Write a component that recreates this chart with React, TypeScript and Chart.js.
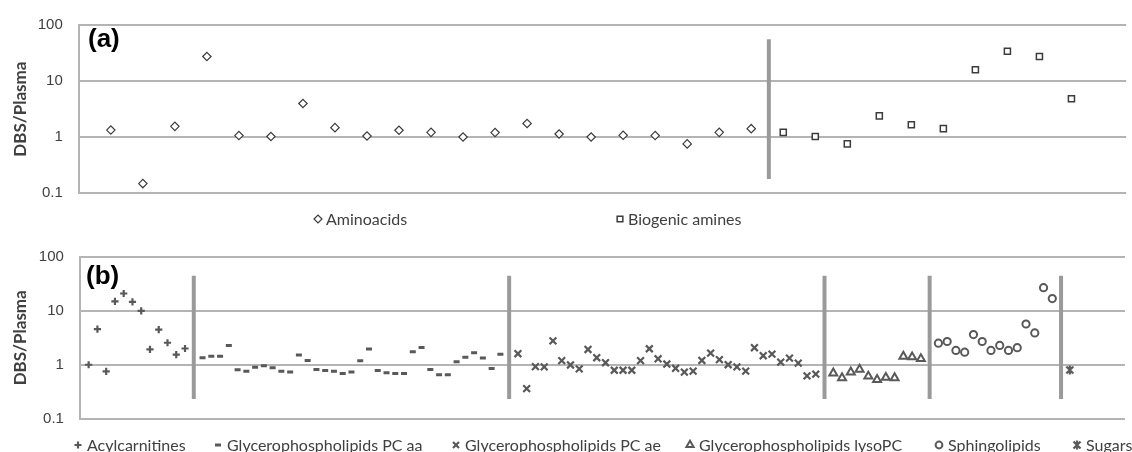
import React, { useEffect, useRef } from 'react';
import { Chart, registerables } from 'chart.js';
import { drawPoint } from 'chart.js/helpers';

Chart.register(...registerables);

// ---------- data ----------
const Y_TICKS = [0.1, 1, 10, 100];
const Y_TICK_LABELS = ['0.1', '1', '10', '100'];

// panel (a)
const AMINOACIDS = [1.34, 0.149, 1.56, 27.4, 1.07, 1.03, 3.98, 1.48, 1.05, 1.33, 1.22, 1.01, 1.21, 1.76, 1.14, 1.01, 1.08, 1.07, 0.76, 1.22, 1.42];
const BIOGENIC_AMINES = [1.22, 1.03, 0.76, 2.4, 1.67, 1.42, 15.9, 34.1, 27.4, 4.86];
const SEPARATORS_A = [21.55];
const SEPARATOR_RANGE_A = [0.18, 56];

// panel (b)
const ACYLCARNITINES = [1.0, 4.6, 0.75, 15, 21, 14.7, 10, 1.93, 4.5, 2.56, 1.54, 2.0];
const PC_AA = [1.35, 1.43, 1.43, 2.28, 0.81, 0.76, 0.9, 0.96, 0.88, 0.76, 0.73, 1.51, 1.2, 0.82, 0.78, 0.76, 0.69, 0.73, 1.19, 1.95, 0.78, 0.71, 0.69, 0.69, 1.74, 2.09, 0.82, 0.65, 0.65, 1.14, 1.37, 1.67, 1.33, 0.85, 1.57];
const PC_AE = [1.6, 0.36, 0.92, 0.91, 2.78, 1.19, 0.99, 0.84, 1.92, 1.35, 1.09, 0.79, 0.79, 0.79, 1.19, 1.98, 1.29, 1.03, 0.86, 0.73, 0.76, 1.2, 1.64, 1.24, 1.0, 0.91, 0.76, 2.07, 1.47, 1.57, 1.12, 1.33, 1.07, 0.62, 0.67];
const LYSO_PC = [0.7, 0.57, 0.73, 0.82, 0.61, 0.53, 0.58, 0.57, 1.43, 1.39, 1.29];
const SPHINGOLIPIDS = [2.51, 2.7, 1.84, 1.71, 3.63, 2.7, 1.84, 2.28, 1.84, 2.07, 5.7, 3.9, 27, 16.9];
const SUGARS = [0.8];
const SEPARATOR_RANGE_B = [0.23, 45];

const LABELS_A = ['Aminoacids', 'Biogenic amines'];
const LABELS_B = ['Acylcarnitines', 'Glycerophospholipids PC aa', 'Glycerophospholipids PC ae', 'Glycerophospholipids lysoPC', 'Sphingolipids', 'Sugars'];

// ---------- layout / style ----------
const W = 1132;
const H_A = 232;
const H_B = 220;
const GREY = '#595959';
const DARK = '#3c3c3c';
const GRID = '#b4b4b4';
const SEP = '#9a9a9a';
const TEXT = '#404040';
const FONT_FAMILY = 'Lato, "Open Sans", sans-serif';

function makeStar(): HTMLCanvasElement {
  const c = document.createElement('canvas');
  c.width = 12; c.height = 12;
  const g = c.getContext('2d')!;
  g.strokeStyle = GREY; g.lineWidth = 2.2; g.lineCap = 'butt';
  g.beginPath();
  g.moveTo(2.5, 2.5); g.lineTo(9.5, 9.5);
  g.moveTo(9.5, 2.5); g.lineTo(2.5, 9.5);
  g.moveTo(6, 1.5); g.lineTo(6, 10.5);
  g.stroke();
  return c;
}

const decorPlugin = {
  id: 'panelDecor',
  afterDraw(chart: any, _args: any, opts: any) {
    const { ctx } = chart;
    ctx.save();
    // panel letter
    ctx.font = 'bold 26px "Liberation Sans", Arial, sans-serif';
    ctx.fillStyle = '#000';
    ctx.textBaseline = 'middle';
    ctx.textAlign = 'left';
    ctx.fillText(opts.panel, opts.panelX, opts.panelY);
    // legend
    const items = chart.data.datasets.filter((d: any) => d.label);
    ctx.font = opts.font;
    items.forEach((ds: any, i: number) => {
      const x = opts.xs[i];
      const y = opts.y;
      ctx.fillStyle = ds.pointBackgroundColor || 'rgba(0,0,0,0)';
      ctx.strokeStyle = ds.pointBorderColor || GREY;
      ctx.lineWidth = ds.pointBorderWidth;
      drawPoint(ctx, { pointStyle: ds.pointStyle, radius: ds.legendRadius, borderWidth: ds.pointBorderWidth, rotation: 0 }, x, y);
      ctx.fillStyle = TEXT;
      ctx.textAlign = 'left';
      ctx.fillText(ds.label, x + opts.textGap, y + 1);
    });
    ctx.restore();
  },
};

function yScale(width: number) {
  return {
    type: 'logarithmic',
    min: 0.1,
    max: 100,
    afterBuildTicks: (s: any) => { s.ticks = Y_TICKS.map((v) => ({ value: v })); },
    afterFit: (s: any) => { s.width = width; },
    ticks: {
      padding: 16,
      color: TEXT,
      font: { family: '"Liberation Sans", Arial, sans-serif', size: 15 },
      callback: (_v: any, i: number) => Y_TICK_LABELS[i],
      autoSkip: false,
    },
    grid: { color: GRID, lineWidth: 2, drawTicks: false },
    border: { display: true, color: GRID, width: 2 },
    title: {
      display: true,
      text: 'DBS/Plasma',
      color: TEXT,
      font: { family: FONT_FAMILY, size: 17, weight: 'bold' },
      padding: { top: 10, bottom: 0 },
    },
  };
}

function sepDatasets(xs: number[], range: number[]) {
  return xs.map((x) => ({
    label: '',
    data: [{ x, y: range[0] }, { x, y: range[1] }],
    showLine: true,
    borderColor: SEP,
    borderWidth: 4,
    pointRadius: 0,
    order: 10,
  }));
}

export default function App() {
  const refA = useRef<HTMLCanvasElement>(null);
  const refB = useRef<HTMLCanvasElement>(null);

  useEffect(() => {
    const star = makeStar();

    // ----- panel (a) -----
    const aminoPts = AMINOACIDS.map((v, i) => ({ x: i + 1, y: v }));
    const bioPts = BIOGENIC_AMINES.map((v, i) => ({ x: AMINOACIDS.length + i + 1, y: v }));
    const chartA = new Chart(refA.current!, {
      type: 'scatter',
      data: {
        datasets: [
          { label: LABELS_A[0], data: aminoPts, pointStyle: 'rectRot', pointRadius: 4.2, legendRadius: 4, pointBorderWidth: 1.2, pointBorderColor: DARK, pointBackgroundColor: '#fff', order: 1 } as any,
          { label: LABELS_A[1], data: bioPts, pointStyle: 'rect', pointRadius: 4.3, legendRadius: 4, pointBorderWidth: 1.5, pointBorderColor: DARK, pointBackgroundColor: '#fff', order: 1 } as any,
          ...sepDatasets(SEPARATORS_A, SEPARATOR_RANGE_A),
        ],
      },
      options: {
        responsive: false,
        animation: false,
        events: [],
        layout: { padding: { top: 21.7, bottom: H_A - 193.3, left: 0, right: 0 } },
        plugins: {
          legend: { display: false },
          tooltip: { enabled: false },
          panelDecor: { panel: '(a)', panelX: 88, panelY: 40, xs: [318, 620], y: 219, textGap: 8, font: `16px ${FONT_FAMILY}` },
        } as any,
        scales: {
          x: { type: 'linear', min: 0, max: 32.71, display: false },
          y: yScale(78.8) as any,
        },
      },
      plugins: [decorPlugin],
    });

    // ----- panel (b) -----
    const groups = [ACYLCARNITINES, PC_AA, PC_AE, LYSO_PC, SPHINGOLIPIDS, SUGARS];
    const styles: any[] = [
      { pointStyle: 'cross', pointRadius: 3.6, legendRadius: 3.5, pointBorderWidth: 2.2, pointBorderColor: GREY },
      { pointStyle: 'line', pointRadius: 3, legendRadius: 3, pointBorderWidth: 3, pointBorderColor: GREY },
      { pointStyle: 'crossRot', pointRadius: 4.8, legendRadius: 4.2, pointBorderWidth: 2.2, pointBorderColor: GREY },
      { pointStyle: 'triangle', pointRadius: 4.6, legendRadius: 4.2, pointBorderWidth: 2, pointBorderColor: GREY, pointBackgroundColor: 'rgba(0,0,0,0)' },
      { pointStyle: 'circle', pointRadius: 3.6, legendRadius: 3.4, pointBorderWidth: 2, pointBorderColor: GREY, pointBackgroundColor: 'rgba(0,0,0,0)' },
      { pointStyle: star, pointRadius: 5, legendRadius: 5, pointBorderWidth: 2, pointBorderColor: GREY },
    ];
    const dsB: any[] = [];
    const sepB: number[] = [];
    let offset = 1;
    groups.forEach((g, gi) => {
      dsB.push({ label: LABELS_B[gi], data: g.map((v, i) => ({ x: offset + i, y: v })), order: 1, ...styles[gi] });
      offset += g.length;
      if (gi < groups.length - 1) { sepB.push(offset); offset += 1; }
    });
    const chartB = new Chart(refB.current!, {
      type: 'scatter',
      data: { datasets: [...dsB, ...sepDatasets(sepB, SEPARATOR_RANGE_B)] },
      options: {
        responsive: false,
        animation: false,
        events: [],
        layout: { padding: { top: 24, bottom: H_B - 186.6, left: 0, right: 0 } },
        plugins: {
          legend: { display: false },
          tooltip: { enabled: false },
          panelDecor: { panel: '(b)', panelX: 86, panelY: 45, xs: [78, 218, 456, 690, 939, 1077], y: 213, textGap: 9, font: `16px ${FONT_FAMILY}` },
        } as any,
        scales: {
          x: { type: 'linear', min: 0, max: 119.3, display: false },
          y: yScale(79.9) as any,
        },
      },
      plugins: [decorPlugin],
    });

    return () => { chartA.destroy(); chartB.destroy(); };
  }, []);

  return (
    <div style={{ position: 'absolute', left: 0, top: 0, width: W, height: H_A + H_B, background: '#fff', overflow: 'hidden' }}>
      <canvas ref={refA} width={W} height={H_A} style={{ display: 'block' }} />
      <canvas ref={refB} width={W} height={H_B} style={{ display: 'block' }} />
    </div>
  );
}
